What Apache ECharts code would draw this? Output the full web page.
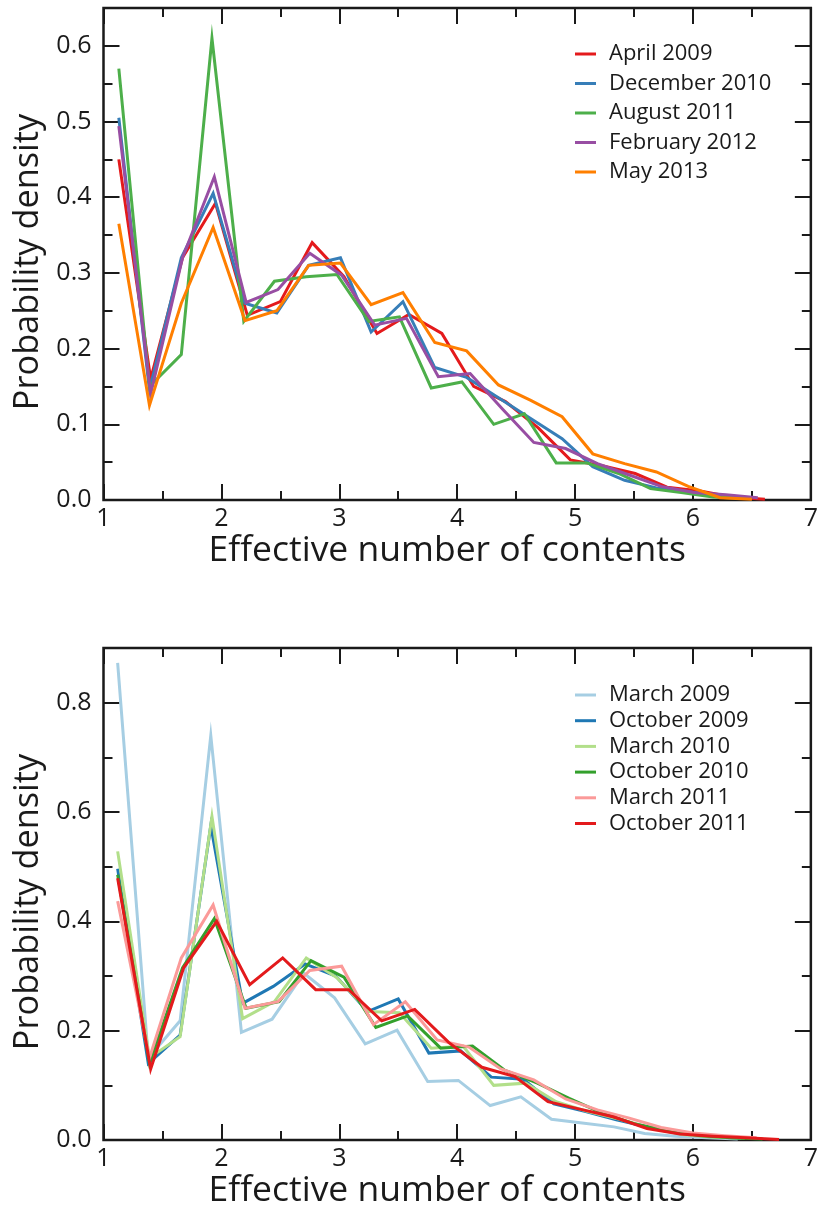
<!DOCTYPE html>
<html>
<head>
<meta charset="utf-8">
<script src="https://cdn.jsdelivr.net/npm/echarts@6/dist/echarts.min.js"></script>
<style>
  html, body { margin: 0; padding: 0; background: #ffffff; }
  #chart { width: 821px; height: 1212px; }
</style>
</head>
<body>
<div id="chart"></div>
<script>
// ---- Upper panel: monthly snapshots 2009-2013 ----
const topNames = ['April 2009', 'December 2010', 'August 2011', 'February 2012', 'May 2013'];

const apr2009X = [1.13, 1.40, 1.67, 1.95, 2.22, 2.50, 2.77, 3.04, 3.32, 3.59, 3.87, 4.14, 4.41, 4.69, 4.96, 5.24, 5.51, 5.78, 6.06, 6.33, 6.61];
const apr2009Y = [0.450, 0.160, 0.320, 0.392, 0.244, 0.262, 0.340, 0.295, 0.220, 0.245, 0.220, 0.150, 0.130, 0.095, 0.053, 0.045, 0.035, 0.017, 0.012, 0.004, 0.001];

const dec2010X = [1.13, 1.39, 1.66, 1.93, 2.20, 2.47, 2.74, 3.01, 3.27, 3.54, 3.81, 4.08, 4.35, 4.62, 4.89, 5.15, 5.42, 5.69, 5.96, 6.23, 6.50];
const dec2010Y = [0.505, 0.145, 0.320, 0.405, 0.260, 0.247, 0.310, 0.320, 0.222, 0.262, 0.175, 0.162, 0.135, 0.108, 0.081, 0.044, 0.026, 0.016, 0.011, 0.005, 0.002];

const aug2011X = [1.13, 1.39, 1.66, 1.92, 2.19, 2.45, 2.72, 2.98, 3.25, 3.51, 3.78, 4.04, 4.31, 4.57, 4.84, 5.10, 5.37, 5.64, 5.90, 6.17, 6.43];
const aug2011Y = [0.570, 0.150, 0.192, 0.610, 0.236, 0.289, 0.295, 0.298, 0.236, 0.242, 0.148, 0.156, 0.100, 0.114, 0.049, 0.049, 0.035, 0.015, 0.010, 0.004, 0.002];

const feb2012X = [1.13, 1.40, 1.67, 1.94, 2.21, 2.48, 2.75, 3.02, 3.30, 3.57, 3.84, 4.11, 4.38, 4.65, 4.92, 5.19, 5.46, 5.73, 6.01, 6.28, 6.55];
const feb2012Y = [0.494, 0.140, 0.320, 0.427, 0.261, 0.278, 0.326, 0.297, 0.231, 0.240, 0.163, 0.167, 0.121, 0.076, 0.068, 0.048, 0.033, 0.018, 0.010, 0.007, 0.003];

const may2013X = [1.13, 1.39, 1.66, 1.93, 2.20, 2.47, 2.74, 3.01, 3.27, 3.54, 3.81, 4.08, 4.35, 4.62, 4.89, 5.15, 5.42, 5.69, 5.96, 6.23, 6.50];
const may2013Y = [0.365, 0.125, 0.260, 0.360, 0.237, 0.250, 0.310, 0.313, 0.258, 0.274, 0.208, 0.197, 0.152, 0.132, 0.110, 0.061, 0.048, 0.037, 0.018, 0.003, 0.001];

// ---- Lower panel: March / October snapshots 2009-2011 ----
const bottomNames = ['March 2009', 'October 2009', 'March 2010', 'October 2010', 'March 2011', 'October 2011'];

const mar2009X = [1.12, 1.38, 1.65, 1.91, 2.17, 2.43, 2.70, 2.96, 3.22, 3.49, 3.75, 4.01, 4.28, 4.54, 4.80, 5.06, 5.33, 5.59, 5.85, 6.12, 6.38];
const mar2009Y = [0.873, 0.150, 0.218, 0.740, 0.197, 0.221, 0.305, 0.260, 0.176, 0.201, 0.107, 0.109, 0.063, 0.079, 0.038, 0.031, 0.024, 0.012, 0.007, 0.004, 0.002];

const oct2009X = [1.12, 1.38, 1.65, 1.91, 2.18, 2.44, 2.71, 2.97, 3.24, 3.50, 3.76, 4.03, 4.29, 4.56, 4.82, 5.09, 5.35, 5.61, 5.88, 6.14, 6.41];
const oct2009Y = [0.496, 0.140, 0.192, 0.575, 0.250, 0.281, 0.322, 0.300, 0.235, 0.258, 0.159, 0.163, 0.115, 0.111, 0.066, 0.052, 0.037, 0.024, 0.012, 0.006, 0.003];

const mar2010X = [1.12, 1.39, 1.65, 1.92, 2.18, 2.45, 2.72, 2.98, 3.25, 3.51, 3.78, 4.05, 4.31, 4.58, 4.84, 5.11, 5.38, 5.64, 5.91, 6.17, 6.44];
const mar2010Y = [0.528, 0.150, 0.189, 0.592, 0.222, 0.253, 0.333, 0.297, 0.235, 0.233, 0.168, 0.172, 0.100, 0.104, 0.070, 0.052, 0.038, 0.022, 0.010, 0.005, 0.003];

const oct2010X = [1.12, 1.39, 1.67, 1.94, 2.21, 2.49, 2.76, 3.04, 3.31, 3.58, 3.86, 4.13, 4.40, 4.68, 4.95, 5.23, 5.50, 5.77, 6.05, 6.32, 6.59];
const oct2010Y = [0.485, 0.140, 0.315, 0.405, 0.241, 0.253, 0.328, 0.298, 0.206, 0.227, 0.168, 0.172, 0.128, 0.104, 0.076, 0.049, 0.030, 0.018, 0.008, 0.004, 0.002];

const mar2011X = [1.12, 1.39, 1.66, 1.93, 2.20, 2.48, 2.75, 3.02, 3.29, 3.56, 3.83, 4.10, 4.37, 4.65, 4.92, 5.19, 5.46, 5.73, 6.00, 6.27, 6.54];
const mar2011Y = [0.437, 0.150, 0.333, 0.430, 0.241, 0.253, 0.310, 0.318, 0.211, 0.253, 0.183, 0.170, 0.130, 0.110, 0.075, 0.055, 0.040, 0.023, 0.013, 0.008, 0.004];

const oct2011X = [1.12, 1.40, 1.68, 1.96, 2.24, 2.52, 2.80, 3.08, 3.36, 3.64, 3.93, 4.21, 4.49, 4.77, 5.05, 5.33, 5.61, 5.89, 6.17, 6.45, 6.73];
const oct2011Y = [0.479, 0.130, 0.315, 0.400, 0.284, 0.333, 0.275, 0.275, 0.218, 0.239, 0.178, 0.133, 0.116, 0.070, 0.056, 0.042, 0.021, 0.011, 0.007, 0.004, 0.001];

// Axis ranges and tick steps
const xRange = [1, 7];
const topYRange = [0, 0.65];
const topYSteps = [0.1, 0.05];     // major, minor
const bottomYRange = [0, 0.9];
const bottomYSteps = [0.2, 0.1];   // major, minor

const xTitle = 'Effective number of contents';
const yTitle = 'Probability density';

// ---- Styling ----
const FONT = '"Open Sans", "Noto Sans", "DejaVu Sans", sans-serif';
const INK = '#1a1a1a';
const topColors = ['#e41a1c', '#377eb8', '#4daf4a', '#984ea3', '#ff7f00'];
const bottomColors = ['#a6cee3', '#1f78b4', '#b2df8a', '#33a02c', '#fb9a99', '#e31a1c'];

const topSeriesData = [[apr2009X, apr2009Y], [dec2010X, dec2010Y], [aug2011X, aug2011Y], [feb2012X, feb2012Y], [may2013X, may2013Y]];
const bottomSeriesData = [[mar2009X, mar2009Y], [oct2009X, oct2009Y], [mar2010X, mar2010Y], [oct2010X, oct2010Y], [mar2011X, mar2011Y], [oct2011X, oct2011Y]];

const pairs = (xs, ys) => xs.map((x, i) => [x, ys[i]]);

const tickStyle = { color: INK, width: 2 };
const MAJOR_LEN = 16;
const MINOR_LEN = 9;

function xAxes(gridIndex) {
  const base = {
    type: 'value', gridIndex, min: xRange[0], max: xRange[1], interval: 1,
    axisLine: { show: false, onZero: false },
    axisTick: { show: true, inside: true, length: MAJOR_LEN, lineStyle: tickStyle },
    minorTick: { show: true, splitNumber: 2, length: MINOR_LEN, lineStyle: tickStyle },
    splitLine: { show: false }, minorSplitLine: { show: false }
  };
  return [
    Object.assign({}, base, {
      position: 'bottom',
      axisLabel: { show: true, color: INK, fontSize: 25, fontFamily: FONT, margin: 6 },
      name: xTitle, nameLocation: 'middle', nameGap: 33,
      nameTextStyle: { fontSize: 35.5, color: INK, fontFamily: FONT, padding: [0, 20, 0, 0] }
    }),
    Object.assign({}, base, { position: 'top', axisLabel: { show: false } })
  ];
}

function yAxes(gridIndex, range, steps) {
  const base = {
    type: 'value', gridIndex, min: range[0], max: range[1],
    axisLine: { show: false, onZero: false },
    splitLine: { show: false }
  };
  const major = { interval: steps[0], axisTick: { show: true, inside: true, length: MAJOR_LEN, lineStyle: tickStyle } };
  const minor = { interval: steps[1], axisTick: { show: true, inside: true, length: MINOR_LEN, lineStyle: tickStyle }, axisLabel: { show: false } };
  return [
    Object.assign({}, base, major, {
      position: 'left',
      axisLabel: {
        show: true, color: INK, fontSize: 25, fontFamily: FONT, margin: 12,
        showMaxLabel: false, formatter: v => v.toFixed(1)
      },
      name: yTitle, nameLocation: 'middle', nameGap: 55,
      nameTextStyle: { fontSize: 34.3, color: INK, fontFamily: FONT, padding: [0, 16, 0, 0] }
    }),
    Object.assign({}, base, minor, { position: 'left' }),
    Object.assign({}, base, major, { position: 'right', axisLabel: { show: false } }),
    Object.assign({}, base, minor, { position: 'right' })
  ];
}

function lineSeries(names, colors, data, xAxisIndex, yAxisIndex) {
  return names.map((name, i) => ({
    name, type: 'line', xAxisIndex, yAxisIndex,
    data: pairs(data[i][0], data[i][1]),
    showSymbol: false, symbol: 'none',
    color: colors[i],
    lineStyle: { width: 3, color: colors[i], join: 'miter', miterLimit: 10 },
    z: 2 + i,
    emphasis: { disabled: true }
  }));
}

function legendFor(names, top, gap) {
  return {
    data: names, orient: 'vertical', left: 575, top, padding: 0,
    icon: 'rect', itemWidth: 21, itemHeight: 3, itemGap: gap,
    selectedMode: false,
    textStyle: { fontSize: 22, lineHeight: 22, color: INK, fontFamily: FONT, padding: [0, 0, 0, 8] }
  };
}

const gridStyle = { show: true, borderColor: INK, borderWidth: 2.5, backgroundColor: 'transparent' };

const option = {
  animation: false,
  backgroundColor: '#ffffff',
  grid: [
    Object.assign({ left: 103.5, top: 8, width: 708, height: 492 }, gridStyle),
    Object.assign({ left: 103.5, top: 648, width: 708, height: 492 }, gridStyle)
  ],
  xAxis: [...xAxes(0), ...xAxes(1)],
  yAxis: [...yAxes(0, topYRange, topYSteps), ...yAxes(1, bottomYRange, bottomYSteps)],
  legend: [legendFor(topNames, 43, 7.5), legendFor(bottomNames, 684, 3.7)],
  series: [
    ...lineSeries(topNames, topColors, topSeriesData, 0, 0),
    ...lineSeries(bottomNames, bottomColors, bottomSeriesData, 2, 4)
  ]
};

const chart = echarts.init(document.getElementById('chart'), null, { renderer: 'canvas' });
chart.setOption(option);
</script>
</body>
</html>
